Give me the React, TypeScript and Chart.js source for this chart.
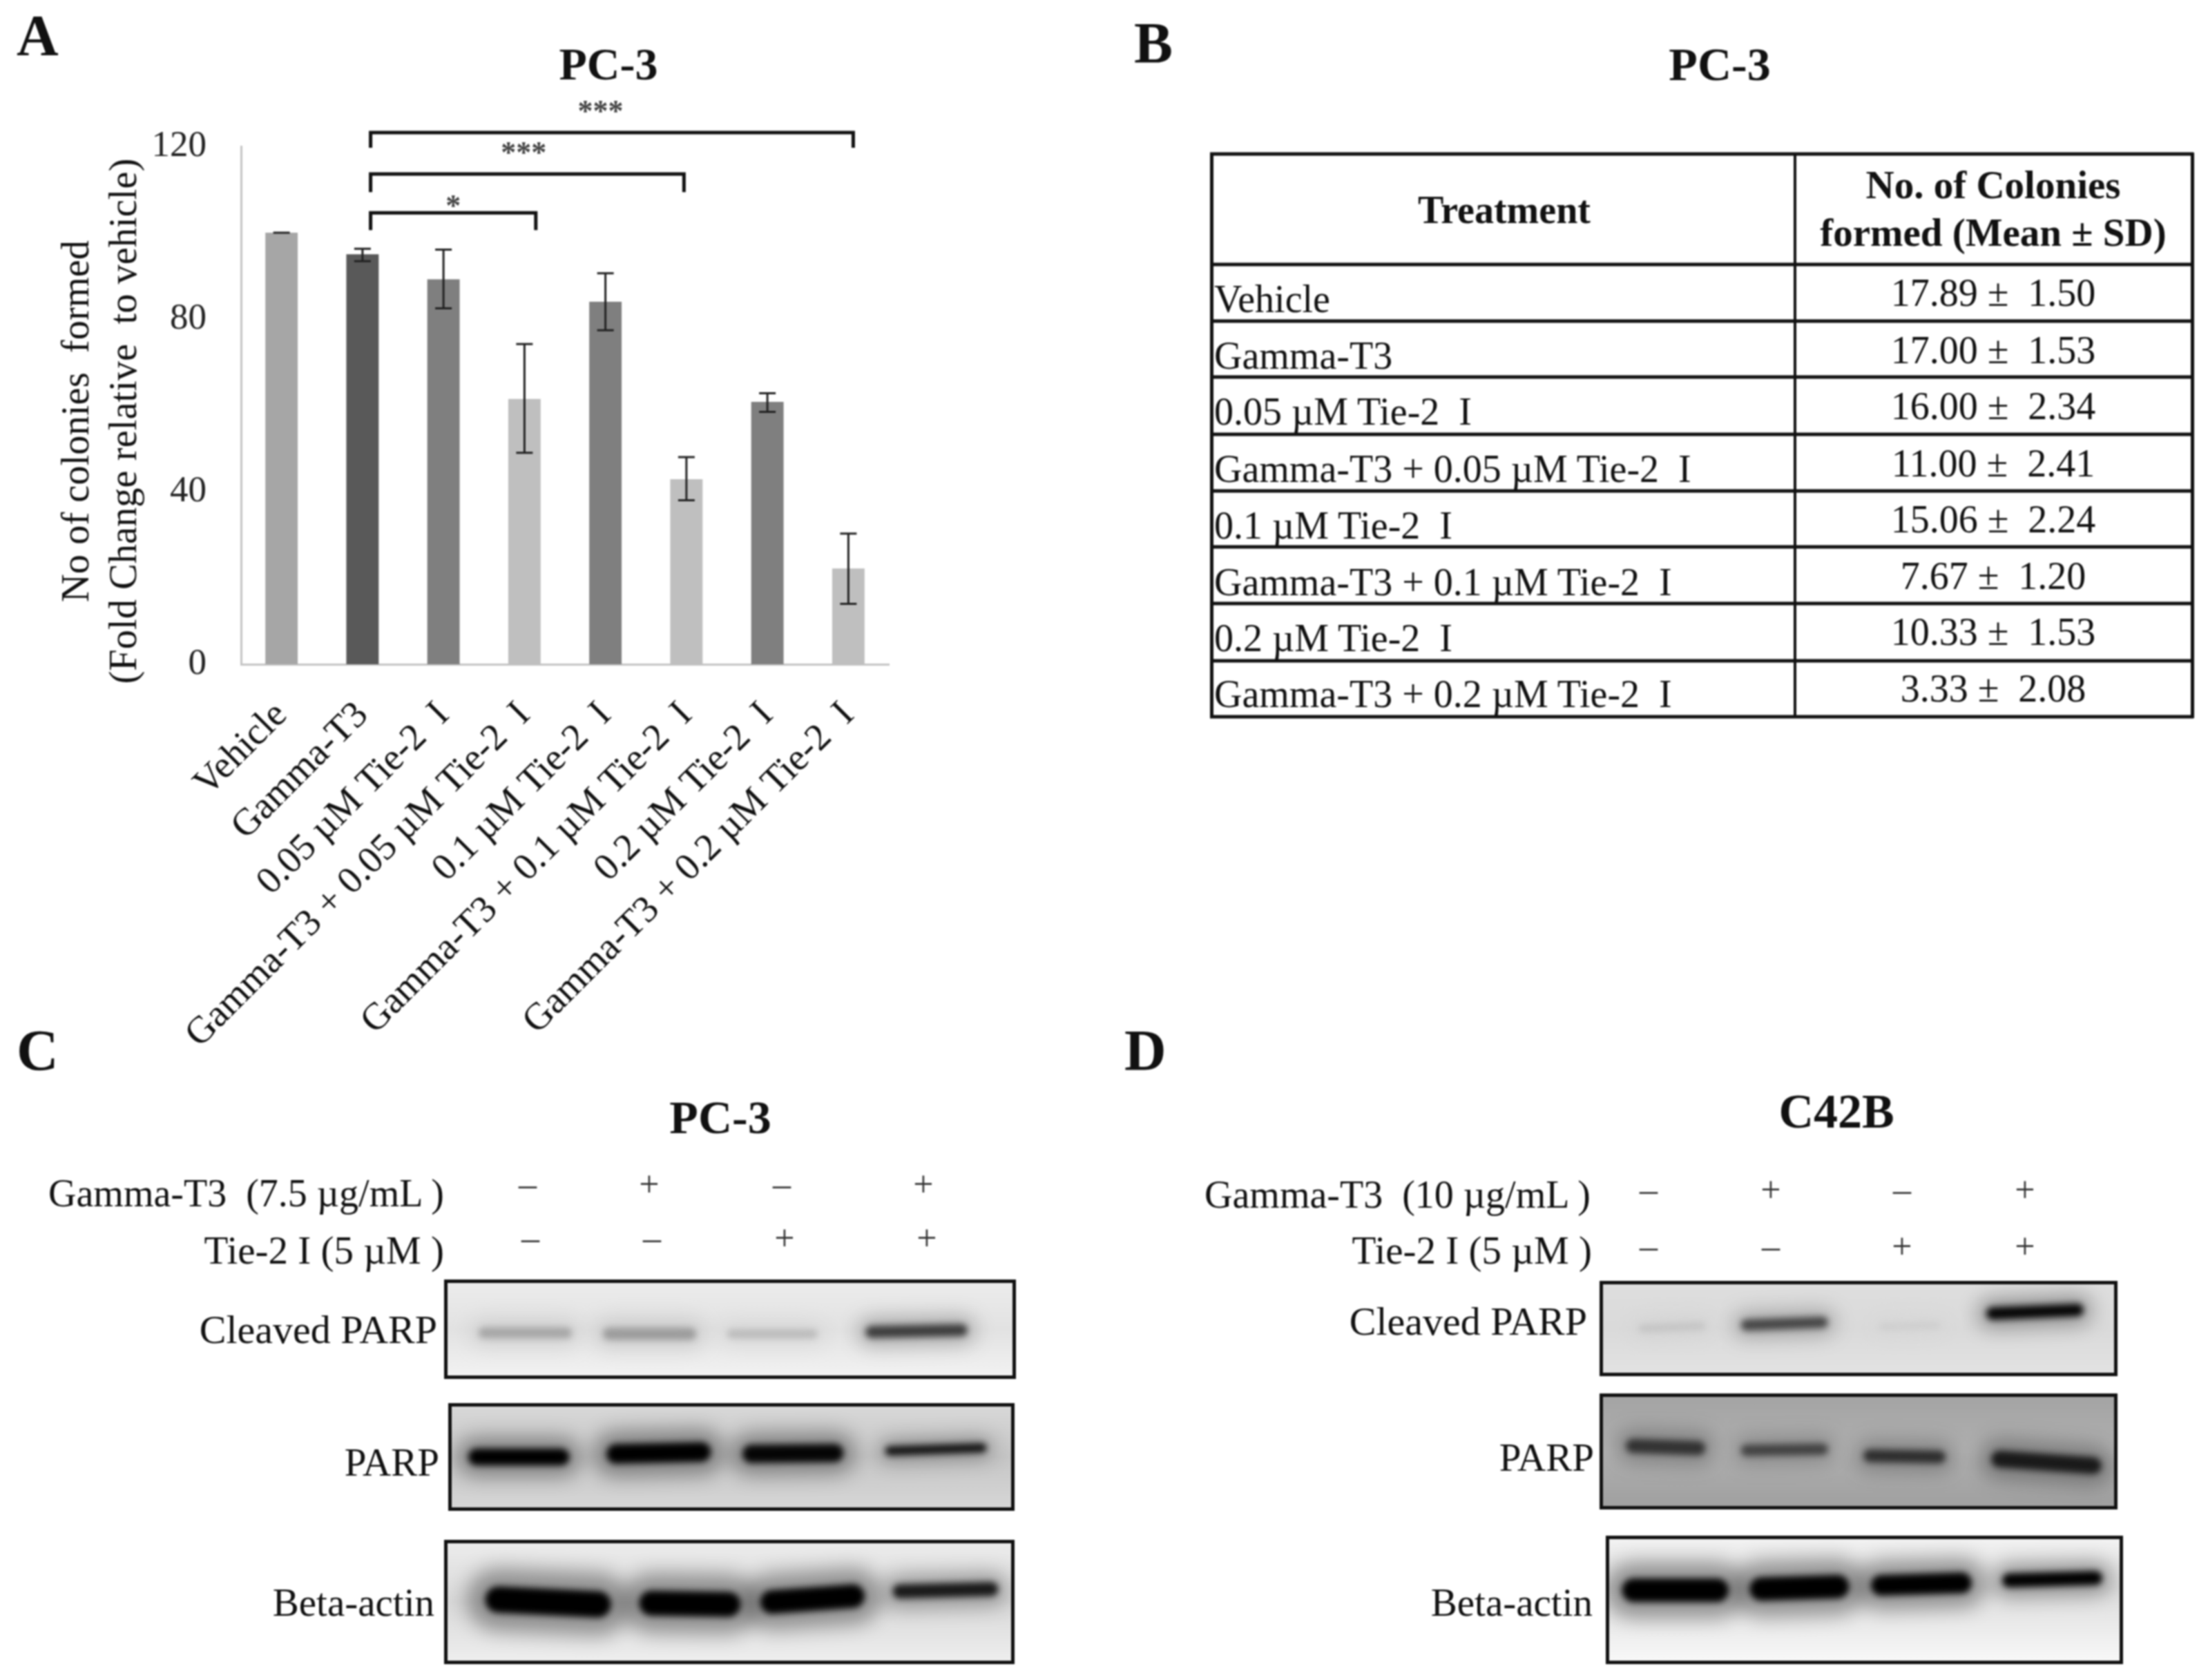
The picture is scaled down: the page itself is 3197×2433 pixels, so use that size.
import React, { useEffect, useRef } from "react";
import { Chart, registerables } from "chart.js";

Chart.register(...registerables);

// ---------- Panel A data ----------
const categories = [
  "Vehicle",
  "Gamma-T3",
  "0.05 µM Tie-2  I",
  "Gamma-T3 + 0.05 µM Tie-2  I",
  "0.1 µM Tie-2  I",
  "Gamma-T3 + 0.1 µM Tie-2  I",
  "0.2 µM Tie-2  I",
  "Gamma-T3 + 0.2 µM Tie-2  I",
];
const colonyValues = [100, 95, 89.2, 61.5, 84, 42.9, 60.8, 22.2];
const errorLow = [100, 93.4, 82.5, 49, 77.4, 38, 58.5, 14];
const errorHigh = [100, 96.3, 96.1, 74.2, 90.6, 48, 62.8, 30.3];
const barColors = ["#a6a6a6", "#595959", "#7f7f7f", "#bfbfbf", "#7f7f7f", "#bfbfbf", "#7f7f7f", "#bfbfbf"];
const bracketFrom = [1.1, 1.1, 1.1];
const bracketTo = [3.14, 4.97, 7.06];
const bracketStarAt = [2.12, 2.99, 3.94];
const bracketLevel = [104.6, 113.6, 123.2];
const bracketDrop = [100.6, 109.4, 119.7];
const bracketStars = ["*", "***", "***"];

// ---------- Panel B data ----------
const tableTreatments = categories;
const tableMeans = ["17.89", "17.00", "16.00", "11.00", "15.06", "7.67", "10.33", "3.33"];
const tableSDs = ["1.50", "1.53", "2.34", "2.41", "2.24", "1.20", "1.53", "2.08"];
const tableRowLines = [223, 383, 465, 546, 629, 711, 792, 874, 957, 1038];
const tableLeftBaselines = [452, 534, 615, 698, 780, 862, 943, 1024];
const tableRightBaselines = [443, 526, 607, 690, 771, 853, 934, 1016];

// ---------- Blots: each row = lane start %, lane end %, y left %, y right %, thickness, grey ----------
const cCleaved = [
  [5.5, 22, 54, 54, 15, 165],
  [27.5, 44, 55, 55, 17, 155],
  [49.5, 65.5, 55, 55, 12, 185],
  [74, 92, 53, 51, 17, 60],
];
const cParp = [
  [3, 21, 50, 50, 24, 0],
  [27.7, 46.3, 47, 45, 28, 0],
  [52, 70, 47, 46, 26, 5],
  [77.5, 95.6, 44, 41, 13, 15],
];
const cActin = [
  [6.7, 29, 48, 52, 38, 0],
  [34, 52, 51, 52, 36, 0],
  [55.5, 74, 50, 45, 34, 0],
  [79, 97.7, 41, 39, 20, 25],
];
const dCleaved = [
  [7, 20, 50, 47, 10, 195],
  [27, 44, 46, 43, 16, 70],
  [54, 66, 48, 46, 9, 205],
  [75, 94, 33, 29, 18, 5],
];
const dParp = [
  [4.5, 20, 45, 47, 20, 50],
  [27, 44, 49, 48, 16, 65],
  [51, 67, 54, 55, 18, 45],
  [76, 97.5, 57, 63, 24, 25],
];
const dActin = [
  [2.5, 23.4, 42, 42, 34, 0],
  [27.5, 47, 41, 39, 34, 0],
  [51.3, 71, 38, 36, 30, 0],
  [77, 96.6, 34, 32, 20, 0],
];

const FONT = '"Liberation Serif", "Times New Roman", serif';

function ChartA() {
  const ref = useRef<HTMLCanvasElement>(null);
  useEffect(() => {
    const W = 1400;
    const H = 1560;
    const decor = {
      id: "decor",
      afterDatasetsDraw(chart: any) {
        const { ctx, scales } = chart;
        const x = scales.x;
        const y = scales.y;
        ctx.save();
        // error bars
        ctx.strokeStyle = "#222";
        ctx.lineWidth = 3;
        colonyValues.forEach((_, i) => {
          const px = x.getPixelForValue(i);
          const a = y.getPixelForValue(errorLow[i]);
          const b = y.getPixelForValue(errorHigh[i]);
          ctx.beginPath();
          ctx.moveTo(px, a);
          ctx.lineTo(px, b);
          ctx.moveTo(px - 12, a);
          ctx.lineTo(px + 12, a);
          ctx.moveTo(px - 12, b);
          ctx.lineTo(px + 12, b);
          ctx.stroke();
        });
        // significance brackets
        ctx.strokeStyle = "#111";
        ctx.lineWidth = 5;
        ctx.textAlign = "center";
        ctx.textBaseline = "alphabetic";
        bracketTo.forEach((to, i) => {
          const x0 = x.getPixelForValue(bracketFrom[i]);
          const x1 = x.getPixelForValue(to);
          const top = y.getPixelForValue(bracketLevel[i]);
          const drop = y.getPixelForValue(bracketDrop[i]);
          ctx.beginPath();
          ctx.moveTo(x0, drop);
          ctx.lineTo(x0, top);
          ctx.lineTo(x1, top);
          ctx.lineTo(x1, drop);
          ctx.stroke();
          ctx.fillStyle = "#444";
          ctx.font = `700 44px ${FONT}`;
          ctx.fillText(bracketStars[i], x.getPixelForValue(bracketStarAt[i]), top + (i === 0 ? 4 : -17));
        });
        // y axis title, two lines
        ctx.fillStyle = "#111";
        ctx.font = `56.5px ${FONT}`;
        ctx.translate(0, 610);
        ctx.rotate(-Math.PI / 2);
        ctx.fillText("No of colonies  formed", 0, 128);
        ctx.fillText("(Fold Change relative  to vehicle)", 0, 197);
        ctx.restore();
      },
    };
    const chart = new Chart(ref.current!, {
      type: "bar",
      data: {
        labels: categories,
        datasets: [
          {
            data: colonyValues,
            backgroundColor: barColors,
            barPercentage: 0.4,
            categoryPercentage: 1,
          },
        ],
      },
      options: {
        animation: false,
        responsive: false,
        devicePixelRatio: 1,
        layout: { padding: { top: 212, right: W - 1287, left: 0, bottom: 0 } },
        plugins: { legend: { display: false }, tooltip: { enabled: false } },
        scales: {
          x: {
            afterFit: (s: any) => {
              s.height = H - 962;
            },
            grid: { display: false, drawTicks: false },
            border: { color: "#c4c4c4", width: 3 },
            ticks: {
              autoSkip: false,
              maxRotation: 45,
              minRotation: 45,
              padding: 42,
              color: "#111",
              font: { family: FONT, size: 55 },
            },
          },
          y: {
            min: 0,
            max: 120,
            afterFit: (s: any) => {
              s.width = 349;
            },
            grid: { display: false, drawTicks: false },
            border: { color: "#c4c4c4", width: 3 },
            ticks: {
              stepSize: 40,
              padding: 50,
              color: "#222",
              font: { family: FONT, size: 53 },
            },
          },
        },
      },
      plugins: [decor],
    } as any);
    return () => chart.destroy();
  }, []);
  return (
    <canvas
      ref={ref}
      width={1400}
      height={1560}
      style={{ position: "absolute", left: 0, top: 0, width: 1400, height: 1560 }}
    />
  );
}

function Blot({ left, top, right, bottom, rows, bg }: any) {
  const ref = useRef<HTMLCanvasElement>(null);
  const w = right - left - 10;
  const h = bottom - top - 10;
  useEffect(() => {
    const sets: any[] = [];
    const build = (r: number[], halo: boolean) => {
      const [start, end, yl, yr, thick, grey] = r;
      const inset = ((thick / 2) / w) * 100;
      return {
        data: [
          { x: start + inset, y: yl },
          { x: end - inset, y: yr },
        ],
        showLine: true,
        pointRadius: 0,
        borderCapStyle: "round",
        borderWidth: halo ? thick * 2.4 : thick,
        borderColor: halo ? `rgba(${grey},${grey},${grey},0.35)` : `rgb(${grey},${grey},${grey})`,
      };
    };
    rows.forEach((r: number[]) => sets.push(build(r, true)));
    rows.forEach((r: number[]) => sets.push(build(r, false)));
    const blur = {
      id: "blur",
      beforeDatasetDraw(c: any, args: any) {
        c.ctx.save();
        c.ctx.filter = args.index < rows.length ? "blur(14px)" : "blur(5px)";
      },
      afterDatasetDraw(c: any) {
        c.ctx.restore();
      },
    };
    const chart = new Chart(ref.current!, {
      type: "scatter",
      data: { datasets: sets },
      options: {
        animation: false,
        responsive: false,
        devicePixelRatio: 1,
        layout: { padding: 0 },
        plugins: { legend: { display: false }, tooltip: { enabled: false } },
        scales: {
          x: { type: "linear", min: 0, max: 100, display: false },
          y: { type: "linear", min: 0, max: 100, reverse: true, display: false },
        },
      },
      plugins: [blur],
    } as any);
    return () => chart.destroy();
  }, []);
  return (
    <div
      style={{
        position: "absolute",
        left,
        top,
        width: right - left,
        height: bottom - top,
        boxSizing: "border-box",
        border: "5px solid #111",
        background: bg,
        overflow: "hidden",
      }}
    >
      <canvas ref={ref} width={w} height={h} style={{ display: "block", width: w, height: h }} />
    </div>
  );
}

type TProps = { x: number; y: number; size?: number; bold?: boolean; anchor?: string; fill?: string; children: any };
function T({ x, y, size = 57, bold, anchor = "start", fill = "#111", children }: TProps) {
  return (
    <text
      x={x}
      y={y}
      fontSize={size}
      fontFamily={FONT}
      fontWeight={bold ? 700 : 400}
      textAnchor={anchor}
      fill={fill}
      style={{ whiteSpace: "pre" }}
    >
      {children}
    </text>
  );
}

function Sign({ x, y, s }: { x: number; y: number; s: string }) {
  return (
    <text x={x} y={y + 16} fontSize={52} fontFamily={FONT} textAnchor="middle" fill="#333">
      {s}
    </text>
  );
}

const cSignX1 = [764, 940, 1132, 1337];
const cSignX2 = [768, 944, 1136, 1342];
const dSignX = [2387, 2564, 2754, 2932];
const gammaSigns = ["–", "+", "–", "+"];
const tieSigns = ["–", "–", "+", "+"];

export default function App() {
  useEffect(() => {
    document.body.style.margin = "0";
  }, []);
  return (
    <div
      style={{
        position: "absolute",
        left: 0,
        top: 0,
        width: 3197,
        height: 2433,
        background: "#fff",
        overflow: "hidden",
        filter: "blur(0.8px)",
      }}
    >
      <ChartA />
      <Blot left={643} top={1853} right={1471} bottom={1997} rows={cCleaved} bg="linear-gradient(#ececec,#e2e2e2 50%,#f2f2f2)" />
      <Blot left={649} top={2032} right={1469} bottom={2188} rows={cParp} bg="linear-gradient(#d8d8d8,#c6c6c6 50%,#d6d6d6)" />
      <Blot left={643} top={2230} right={1469} bottom={2410} rows={cActin} bg="linear-gradient(#ececec,#d8d8d8 50%,#eeeeee)" />
      <Blot left={2316} top={1855} right={3066} bottom={1993} rows={dCleaved} bg="linear-gradient(#dedede,#dadada 50%,#e2e2e2)" />
      <Blot left={2316} top={2018} right={3066} bottom={2186} rows={dParp} bg="linear-gradient(#a4a4a4,#b0b0b0 50%,#a0a0a0)" />
      <Blot left={2325} top={2224} right={3074} bottom={2410} rows={dActin} bg="linear-gradient(#f2f2f2,#dcdcdc 40%,#f8f8f8)" />
      <svg
        width={3197}
        height={2433}
        style={{ position: "absolute", left: 0, top: 0, pointerEvents: "none" }}
      >
        {/* panel letters and titles */}
        <T x={24} y={80} size={84} bold>A</T>
        <T x={1642} y={91} size={84} bold>B</T>
        <T x={24} y={1550} size={84} bold>C</T>
        <T x={1628} y={1550} size={84} bold>D</T>
        <T x={881} y={115} size={66} bold anchor="middle">PC-3</T>
        <T x={2490} y={116} size={68} bold anchor="middle">PC-3</T>
        <T x={1043} y={1641} size={68} bold anchor="middle">PC-3</T>
        <T x={2659} y={1633} size={70} bold anchor="middle">C42B</T>

        {/* table */}
        {tableRowLines.map((y, i) => (
          <rect key={i} x={1752} y={y - 2.5} width={1424} height={5} fill="#111" />
        ))}
        <rect x={1752} y={221} width={5} height={819} fill="#111" />
        <rect x={2597} y={221} width={4} height={819} fill="#111" />
        <rect x={3172} y={221} width={5} height={819} fill="#111" />
        <T x={2178} y={323} size={56} bold anchor="middle">Treatment</T>
        <T x={2886} y={287} bold anchor="middle">No. of Colonies</T>
        <T x={2886} y={356} bold anchor="middle">formed (Mean ± SD)</T>
        {tableTreatments.map((t, i) => (
          <T key={i} x={1758} y={tableLeftBaselines[i]} size={56}>{t}</T>
        ))}
        {tableMeans.map((m, i) => (
          <T key={i} x={2886} y={tableRightBaselines[i]} size={56} anchor="middle">
            {`${m} ±  ${tableSDs[i]}`}
          </T>
        ))}

        {/* panel C labels */}
        <T x={643} y={1747} anchor="end" size={56}>Gamma-T3  (7.5 µg/mL )</T>
        <T x={643} y={1830} anchor="end">Tie-2 I (5 µM )</T>
        {gammaSigns.map((s, i) => <Sign key={i} x={cSignX1[i]} y={1716} s={s} />)}
        {tieSigns.map((s, i) => <Sign key={i} x={cSignX2[i]} y={1794} s={s} />)}
        <T x={633} y={1945} anchor="end" size={58}>Cleaved PARP</T>
        <T x={636} y={2137} anchor="end">PARP</T>
        <T x={629} y={2340} anchor="end">Beta-actin</T>

        {/* panel D labels */}
        <T x={2303} y={1749} anchor="end" size={56}>Gamma-T3  (10 µg/mL )</T>
        <T x={2305} y={1830} anchor="end">Tie-2 I (5 µM )</T>
        {gammaSigns.map((s, i) => <Sign key={i} x={dSignX[i]} y={1724} s={s} />)}
        {tieSigns.map((s, i) => <Sign key={i} x={dSignX[i]} y={1806} s={s} />)}
        <T x={2298} y={1933} anchor="end" size={58}>Cleaved PARP</T>
        <T x={2308} y={2130} anchor="end">PARP</T>
        <T x={2306} y={2340} anchor="end">Beta-actin</T>
      </svg>
    </div>
  );
}
